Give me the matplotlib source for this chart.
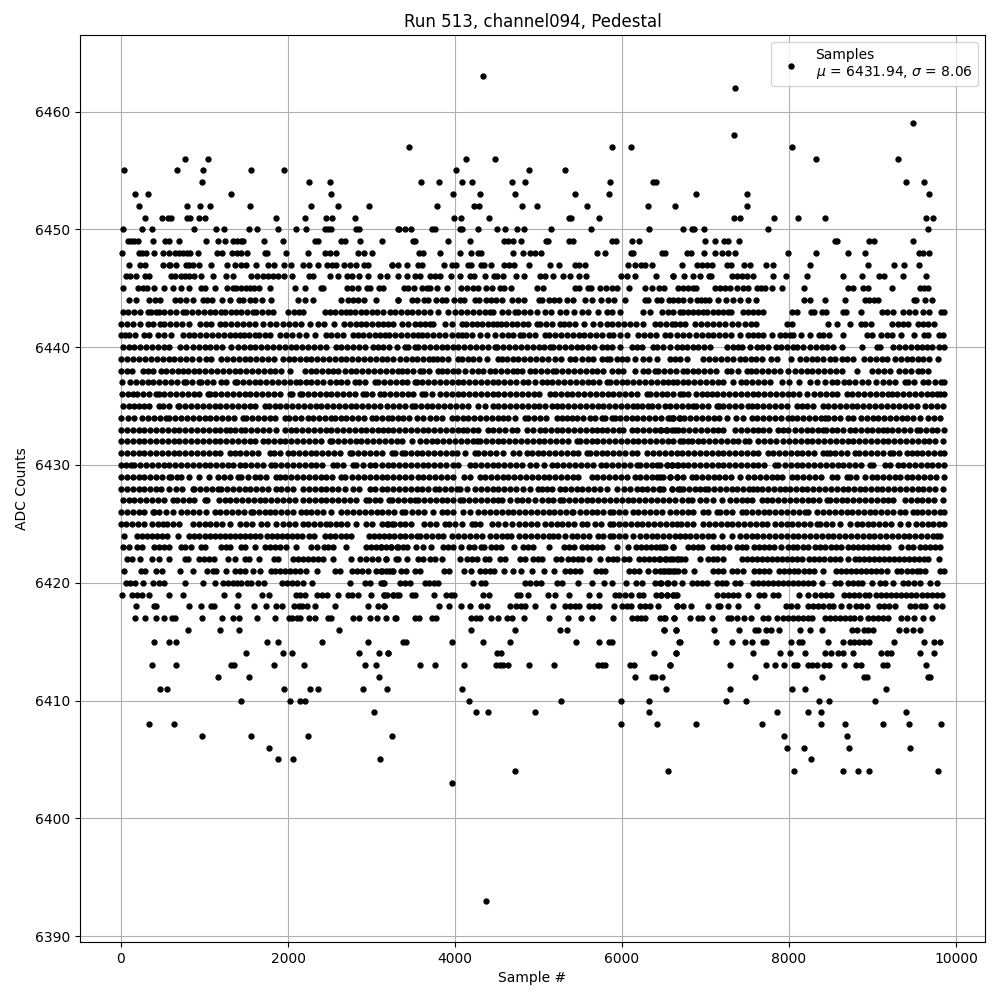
import matplotlib
matplotlib.use('Agg')
import matplotlib.pyplot as plt

# sample numbers, one list per ADC level
x_6463 = [4339]
x_6462 = [7357]
x_6459 = [9487]
x_6458 = [7345]
x_6457 = [3453, 5883, 6110, 8039]
x_6456 = [764, 1040, 4135, 4483, 8326, 9308]
x_6455 = [32, 668, 980, 1556, 1952, 4016, 4890, 5320]
x_6454 = [968, 2252, 2504, 3597, 3812, 4088, 4207, 4686, 4842, 5859, 6374, 6410, 9404, 9619]
x_6453 = [168, 320, 1316, 2516, 3980, 4303, 4722, 5440, 5847, 6890, 7500, 9679]
x_6452 = [212, 788, 944, 1064, 1544, 2276, 2600, 2972, 3788, 4231, 4291, 4806, 4985, 5584, 6314, 6637, 7500]
x_6451 = [284, 488, 560, 596, 788, 824, 932, 1004, 1856, 2204, 2456, 2528, 2804, 3992, 4076, 4411, 5368, 5392, 5727,
          7345, 7417, 7824, 8111, 8434, 9643, 9727]
x_6450 = [20, 248, 368, 872, 1136, 1232, 1532, 1628, 1880, 2096, 2216, 2444, 2480, 2516, 2820, 2852, 3320, 3333, 3405, 3477,
          3728, 3764, 4064, 4088, 4279, 4506, 4602, 4746, 4830, 5153, 5632, 6326, 6734, 6842, 6866, 6986, 7752, 9667]
x_6449 = [80, 116, 152, 200, 380, 524, 572, 692, 1016, 1160, 1244, 1340, 1388, 1436, 1460, 1712, 1940, 2324, 2360, 2636, 2684,
          2864, 3128, 3500, 3525, 3920, 4183, 4590, 4638, 4698, 4794, 5093, 5117, 5368, 5416, 5883, 5931, 6122, 6206,
          6998, 7117, 7225, 7273, 7405, 8554, 8578, 8961, 9021, 9487]
x_6448 = [8, 212, 248, 296, 392, 500, 572, 644, 692, 740, 788, 824, 920, 1148, 1208, 1328, 1388, 1436, 1508, 1724, 1748, 1976,
          2240, 2444, 2504, 2576, 2840, 2912, 3008, 3573, 3621, 3824, 4064, 4195, 4279, 4315, 4698, 4818, 4901, 4961, 5033,
          5703, 5799, 6110, 6134, 6483, 6519, 6782, 6830, 6986, 7117, 7201, 7273, 7357, 7991, 8326, 8709, 8913, 9559, 9607, 9679]
x_6447 = [100, 224, 284, 500, 572, 592, 656, 776, 812, 860, 932, 1076, 1268, 1364, 1436, 1496, 1616, 1760, 1832, 1952, 2036,
          2180, 2252, 2360, 2468, 2528, 2576, 2672, 2744, 2816, 2912, 2960, 3248, 3250, 3321, 3429, 3561, 3609, 3872, 3968,
          4016, 4159, 4195, 4315, 4351, 4435, 4590, 4650, 4710, 4890, 5141, 5249, 5440, 5488, 5560, 6075, 6158, 6230, 6278,
          6362, 6722, 6902, 6962, 7022, 7081, 7261, 7309, 7464, 7536, 7728, 7812, 8254, 8949, 9260, 9380, 9559]
x_6446 = [60, 112, 176, 284, 340, 596, 644, 716, 764, 812, 872, 956, 1100, 1256, 1340, 1556, 1628, 1700, 1760, 1820, 1880, 1952,
          2048, 2252, 2300, 2504, 2600, 2708, 2768, 2852, 2960, 3104, 3188, 3320, 3429, 3525, 3585, 3704, 3764, 3824, 3956,
          4064, 4183, 4231, 4363, 4470, 4506, 4578, 4734, 4830, 5021, 5081, 5177, 5296, 5380, 5488, 5572, 5991, 6063, 6158,
          6410, 6613, 6615, 6746, 6854, 6938, 7046, 7070, 7321, 7381, 7441, 7500, 7572, 7812, 7967, 8219, 8650, 8877, 9080,
          9140, 9368, 9643]
x_6445 = [20, 200, 260, 308, 392, 512, 620, 716, 812, 956, 1004, 1128, 1268, 1340, 1376, 1436, 1496, 1544, 1592, 1652, 1784,
          2084, 2204, 2396, 2420, 2708, 2768, 2840, 2948, 2984, 3092, 3140, 3393, 3441, 3513, 3609, 3669, 3704, 3788, 3908,
          4076, 4147, 4219, 4279, 4375, 4447, 4542, 4590, 4674, 4985, 5057, 5440, 5488, 5596, 5632, 5739, 5811, 5883, 5943,
          6086, 6278, 6362, 6446, 6505, 6673, 6734, 6794, 6854, 6890, 7117, 7177, 7237, 7297, 7381, 7452, 7512, 7620, 7668,
          7716, 7800, 7919, 8183, 8709, 8769, 8889, 8949, 9236, 9571, 9619, 9667]
x_6444 = [100, 176, 332, 404, 464, 644, 704, 776, 860, 980, 1028, 1088, 1208, 1304, 1412, 1460, 1544, 1604, 1688, 1796, 2120,
          2204, 2300, 2636, 2716, 2780, 2840, 2912, 3048, 3312, 3321, 3489, 3549, 3633, 3681, 3776, 3848, 3896, 3992, 4064,
          4111, 4243, 4291, 4375, 4435, 4494, 4566, 4686, 4758, 4830, 5009, 5045, 5129, 5189, 5249, 5344, 5416, 5560, 5644,
          5751, 5835, 5907, 6039, 6278, 6314, 6422, 6471, 6567, 6615, 6674, 6734, 6818, 6902, 6950, 6998, 7046, 7153, 7249,
          7333, 7417, 7512, 7608, 8183, 8254, 8434, 8673, 8913, 8961, 9021, 9068, 9499, 9523, 9631, 9715]
x_6443 = [20, 88, 156, 224, 320, 360, 420, 460, 520, 588, 660, 740, 780, 850, 920, 990, 1060, 1130, 1200, 1240, 1320, 1380, 1440, 1510,
          1580, 1620, 1690, 1760, 1820, 2000, 2070, 2130, 2180, 2448, 2508, 2560, 2630, 2690, 2740, 2800, 2880, 2940, 3000, 3068,
          3140, 3220, 3280, 3350, 3420, 3490, 3560, 3630, 3700, 3800, 3920, 4000, 4070, 4140, 4220, 4290, 4360, 4420, 4460, 4560,
          4630, 4720, 4760, 4830, 4900, 4980, 5080, 5150, 5260, 5330, 5425, 5515, 5596, 5715, 5815, 5885, 5975, 6255, 6335, 6475,
          6545, 6615, 6690, 6734, 6794, 6854, 6914, 6974, 7022, 7093, 7153, 7213, 7273, 7309, 7452, 7512, 7572, 7632, 7692, 8039,
          8099, 8266, 8302, 8398, 8446, 8650, 8685, 8865, 9116, 9176, 9248, 9368, 9439, 9511, 9607, 9679, 9823, 9856]
x_6442 = [0, 70, 140, 224, 320, 380, 464, 520, 590, 660, 730, 820, 952, 1020, 1080, 1180, 1250, 1320, 1390, 1460, 1530, 1600, 1700,
          1780, 1860, 1940, 2010, 2080, 2160, 2268, 2360, 2432, 2552, 2668, 2740, 2810, 2880, 2940, 3010, 3080, 3140, 3200, 3260,
          3360, 3440, 3520, 3580, 3640, 3700, 3740, 3880, 3960, 4080, 4130, 4200, 4260, 4320, 4390, 4460, 4500, 4545, 4610, 4680,
          4740, 4810, 4880, 4980, 5020, 5090, 5160, 5260, 5300, 5360, 5435, 5540, 5655, 5735, 5815, 5885, 5955, 6025, 6095, 6165,
          6255, 6400, 6455, 6525, 6595, 6635, 6700, 6755, 6875, 6950, 7020, 7090, 7160, 7235, 7313, 7393, 7470, 7540, 7610, 7970,
          8030, 8470, 8580, 8733, 8860, 8910, 8977, 9228, 9300, 9370, 9428, 9548, 9610, 9668, 9740]
x_6441 = [0, 50, 100, 172, 272, 340, 440, 520, 600, 740, 810, 880, 950, 1020, 1090, 1160, 1230, 1300, 1360, 1420, 1468, 1530, 1600,
          1652, 1720, 1780, 1900, 1980, 2052, 2130, 2220, 2328, 2452, 2520, 2590, 2660, 2780, 2840, 2900, 2970, 3040, 3100, 3160,
          3215, 3285, 3355, 3425, 3495, 3560, 3600, 3670, 3740, 3810, 3880, 3960, 4030, 4080, 4130, 4200, 4300, 4380, 4480, 4560,
          4630, 4700, 4780, 4820, 4890, 4960, 5080, 5130, 5200, 5270, 5340, 5410, 5480, 5550, 5620, 5690, 5760, 5850, 5895, 5975,
          6065, 6195, 6265, 6335, 6405, 6515, 6575, 6655, 6734, 6806, 6885, 6955, 7025, 7095, 7165, 7235, 7305, 7412, 7512, 7572,
          7632, 7692, 7800, 7890, 7950, 8010, 8050, 8147, 8250, 8362, 8410, 8482, 8650, 8930, 8990, 9097, 9168, 9236, 9344, 9499,
          9619, 9667, 9800, 9845]
x_6440 = [20, 90, 160, 230, 300, 370, 440, 510, 580, 712, 780, 860, 940, 1000, 1070, 1140, 1210, 1320, 1400, 1470, 1540, 1610, 1680,
          1750, 1820, 1890, 1960, 2030, 2100, 2170, 2240, 2310, 2380, 2450, 2580, 2640, 2710, 2780, 2850, 2920, 3020, 3080, 3140,
          3214, 3308, 3400, 3440, 3520, 3560, 3630, 3700, 3770, 3840, 3910, 3980, 4040, 4110, 4180, 4250, 4320, 4390, 4480, 4500,
          4580, 4650, 4720, 4790, 4860, 4930, 5000, 5070, 5135, 5175, 5245, 5315, 5385, 5455, 5525, 5595, 5665, 5755, 5815, 5885,
          5975, 6115, 6175, 6245, 6375, 6415, 6485, 6575, 6653, 6715, 6775, 6845, 6915, 6985, 7050, 7255, 7325, 7392, 7432, 7532,
          7612, 7682, 7752, 7850, 7907, 7980, 8050, 8090, 8170, 8250, 8320, 8390, 8460, 8530, 8630, 8877, 9050, 9090, 9248, 9318,
          9388, 9458, 9528, 9598, 9647, 9715, 9800, 9856]
x_6439 = [0, 70, 140, 215, 290, 360, 430, 500, 570, 640, 710, 780, 850, 940, 1020, 1080, 1200, 1270, 1340, 1410, 1480, 1550, 1620,
          1690, 1760, 1830, 1940, 2010, 2070, 2140, 2210, 2280, 2350, 2420, 2490, 2560, 2630, 2700, 2770, 2840, 2910, 2980, 3050,
          3120, 3190, 3260, 3340, 3410, 3480, 3550, 3620, 3690, 3740, 3780, 3850, 3920, 4040, 4080, 4150, 4220, 4290, 4380, 4520,
          4560, 4620, 4700, 4760, 4830, 4900, 4970, 5040, 5110, 5200, 5275, 5375, 5435, 5515, 5595, 5655, 5755, 5815, 5855, 5935,
          6000, 6055, 6155, 6255, 6325, 6415, 6575, 6635, 6695, 6774, 6975, 7045, 7115, 7185, 7255, 7325, 7412, 7470, 7540, 7610,
          7680, 7790, 7860, 8020, 8130, 8200, 8270, 8340, 8410, 8490, 8550, 8630, 8690, 8770, 8897, 8970, 9040, 9110, 9168, 9268,
          9338, 9408, 9478, 9548, 9607, 9677, 9787]
x_6438 = [0, 70, 130, 260, 320, 380, 480, 540, 610, 680, 740, 800, 870, 940, 1010, 1080, 1150, 1220, 1290, 1360, 1430, 1500, 1570,
          1640, 1710, 1780, 1850, 1920, 2020, 2200, 2270, 2340, 2410, 2480, 2540, 2600, 2680, 2750, 2820, 2890, 2960, 3030, 3100,
          3170, 3240, 3320, 3360, 3430, 3500, 3580, 3620, 3690, 3800, 3840, 3910, 3980, 4040, 4120, 4200, 4270, 4340, 4420, 4480,
          4550, 4620, 4690, 4740, 4800, 4900, 4960, 5030, 5100, 5175, 5215, 5285, 5355, 5425, 5495, 5565, 5635, 5705, 5775, 5875,
          5955, 6015, 6155, 6255, 6315, 6395, 6435, 6505, 6575, 6645, 6735, 6775, 6845, 6915, 6985, 7055, 7125, 7253, 7309, 7393,
          7500, 7540, 7610, 7680, 7750, 7820, 7890, 7990, 8070, 8140, 8210, 8280, 8350, 8420, 8490, 8560, 8630, 8809, 8990, 9068,
          9137, 9207, 9320, 9388, 9458, 9548, 9587, 9660]
x_6437 = [8, 108, 178, 248, 318, 388, 458, 528, 598, 668, 760, 780, 850, 940, 960, 1030, 1100, 1200, 1252, 1360, 1390, 1460, 1530,
          1600, 1670, 1740, 1810, 1880, 1950, 2020, 2100, 2140, 2210, 2280, 2350, 2420, 2500, 2570, 2640, 2710, 2800, 2852, 2920,
          3040, 3080, 3150, 3220, 3290, 3360, 3430, 3520, 3540, 3610, 3680, 3750, 3820, 3890, 3960, 4030, 4100, 4170, 4240, 4310,
          4380, 4450, 4520, 4590, 4660, 4730, 4817, 4878, 4960, 5037, 5097, 5167, 5237, 5307, 5377, 5447, 5517, 5587, 5657, 5727,
          5815, 5855, 5925, 5995, 6065, 6135, 6205, 6275, 6345, 6415, 6485, 6555, 6612, 6653, 6725, 6795, 6865, 6935, 7005, 7075,
          7145, 7215, 7333, 7420, 7490, 7560, 7630, 7700, 7770, 7911, 8003, 8123, 8250, 8340, 8430, 8510, 8580, 8660, 8721, 8790,
          8869, 8949, 9036, 9128, 9198, 9268, 9388, 9428, 9498, 9607, 9668, 9747, 9817, 9856]
x_6436 = [12, 80, 140, 190, 260, 330, 420, 450, 520, 590, 660, 730, 800, 870, 940, 1040, 1060, 1130, 1200, 1270, 1340, 1410, 1480,
          1550, 1620, 1690, 1760, 1830, 1900, 2020, 2050, 2140, 2170, 2240, 2310, 2380, 2450, 2520, 2590, 2660, 2730, 2800, 2900,
          2940, 3010, 3100, 3154, 3222, 3292, 3362, 3432, 3502, 3600, 3640, 3720, 3820, 3890, 3960, 4030, 4100, 4170, 4240, 4310,
          4380, 4450, 4520, 4590, 4660, 4730, 4800, 4870, 4940, 5010, 5137, 5197, 5267, 5337, 5407, 5477, 5547, 5617, 5687, 5757,
          5827, 5897, 5967, 6037, 6107, 6177, 6294, 6334, 6404, 6474, 6544, 6614, 6690, 6725, 6794, 6886, 6954, 7014, 7073, 7141,
          7213, 7283, 7353, 7423, 7493, 7563, 7633, 7703, 7773, 7843, 7913, 7983, 8053, 8123, 8210, 8302, 8370, 8440, 8510, 8580,
          8690, 8749, 8829, 8899, 8969, 9039, 9109, 9188, 9228, 9298, 9368, 9438, 9508, 9578, 9648, 9718, 9767, 9807, 9856]
x_6435 = [20, 90, 160, 212, 272, 340, 460, 500, 580, 680, 700, 770, 840, 910, 980, 1050, 1120, 1190, 1260, 1330, 1400, 1470, 1540,
          1610, 1720, 1770, 1840, 1910, 1980, 2050, 2120, 2190, 2260, 2330, 2400, 2470, 2540, 2610, 2680, 2750, 2820, 2890, 2960,
          3030, 3100, 3190, 3260, 3330, 3400, 3480, 3520, 3590, 3660, 3730, 3800, 3870, 3940, 4010, 4080, 4150, 4280, 4360, 4460,
          4520, 4590, 4660, 4730, 4800, 4870, 4940, 5010, 5080, 5157, 5217, 5287, 5357, 5427, 5497, 5567, 5637, 5707, 5777, 5847,
          5917, 5987, 6057, 6127, 6175, 6235, 6315, 6355, 6425, 6515, 6575, 6645, 6715, 6785, 6854, 6886, 6956, 7026, 7133, 7157,
          7213, 7283, 7353, 7423, 7512, 7552, 7622, 7692, 7762, 7832, 7902, 7972, 8090, 8150, 8220, 8290, 8410, 8470, 8540, 8610,
          8680, 8750, 8820, 8890, 8960, 9030, 9100, 9168, 9248, 9318, 9388, 9458, 9528, 9627, 9697, 9767, 9847]
x_6434 = [0, 80, 160, 252, 320, 400, 470, 540, 580, 650, 720, 790, 860, 930, 1000, 1070, 1140, 1210, 1280, 1350, 1460, 1500, 1570,
          1640, 1710, 1780, 1850, 1960, 2010, 2080, 2150, 2240, 2300, 2370, 2440, 2520, 2560, 2630, 2700, 2770, 2840, 2910, 3000,
          3050, 3120, 3202, 3240, 3320, 3380, 3450, 3550, 3620, 3700, 3770, 3840, 3960, 4020, 4090, 4160, 4230, 4300, 4370, 4440,
          4510, 4578, 4638, 4718, 4838, 4878, 4948, 5018, 5088, 5217, 5277, 5337, 5396, 5466, 5536, 5616, 5675, 5755, 5795, 5875,
          5915, 5975, 6046, 6115, 6185, 6255, 6325, 6395, 6465, 6574, 6613, 6690, 6555, 6607, 6677, 6747, 6817, 6887, 6957, 7027,
          7097, 7167, 7253, 7365, 7452, 7552, 7622, 7692, 7762, 7832, 7902, 7991, 8031, 8101, 8171, 8241, 8311, 8381, 8430, 8470,
          8540, 8610, 8710, 8769, 8861, 8931, 9008, 9068, 9138, 9208, 9278, 9348, 9418, 9488, 9567, 9667, 9737, 9807]
x_6433 = [0, 70, 140, 210, 280, 350, 420, 490, 560, 630, 700, 770, 840, 910, 980, 1050, 1120, 1190, 1260, 1300, 1370, 1440, 1490,
          1560, 1630, 1700, 1770, 1860, 1960, 2030, 2100, 2170, 2240, 2310, 2380, 2450, 2520, 2590, 2660, 2730, 2800, 2870, 2940,
          3010, 3080, 3142, 3202, 3262, 3332, 3402, 3472, 3542, 3612, 3682, 3752, 3822, 3892, 3962, 4032, 4100, 4140, 4210, 4280,
          4400, 4460, 4530, 4600, 4680, 4738, 4858, 4937, 5017, 5077, 5147, 5217, 5287, 5357, 5425, 5495, 5565, 5635, 5695, 5755,
          5825, 5895, 5965, 6015, 6115, 6185, 6255, 6325, 6395, 6465, 6535, 6634, 6673, 6455, 6525, 6595, 6735, 6805, 6875, 6945,
          7015, 7085, 7155, 7213, 7353, 7423, 7493, 7563, 7632, 7692, 7762, 7871, 7931, 7991, 8071, 8141, 8211, 8281, 8351, 8410,
          8440, 8510, 8580, 8650, 8729, 8789, 8859, 8929, 8999, 9069, 9128, 9168, 9238, 9308, 9378, 9448, 9528, 9567, 9637, 9707,
          9777, 9856]
x_6432 = [0, 70, 140, 210, 280, 350, 420, 490, 560, 630, 700, 770, 840, 910, 980, 1050, 1120, 1190, 1260, 1330, 1400, 1470, 1540,
          1610, 1700, 1760, 1830, 1900, 1970, 2040, 2110, 2180, 2250, 2320, 2390, 2500, 2530, 2600, 2670, 2740, 2810, 2880, 2950,
          3020, 3090, 3160, 3230, 3300, 3370, 3480, 3580, 3650, 3720, 3790, 3860, 3930, 4000, 4070, 4140, 4210, 4260, 4300, 4370,
          4440, 4510, 4580, 4650, 4720, 4790, 4860, 4930, 5000, 5070, 5140, 5210, 5280, 5350, 5456, 5496, 5566, 5636, 5706, 5776,
          5846, 5916, 5986, 6056, 6126, 6196, 6266, 6336, 6406, 6476, 6546, 6616, 6690, 6725, 6794, 6834, 6904, 6974, 7044, 7114,
          7184, 7254, 7324, 7394, 7472, 7524, 7632, 7702, 7772, 7842, 7931, 8003, 8071, 8141, 8211, 8281, 8351, 8421, 8491, 8561,
          8631, 8701, 8771, 8841, 8911, 8981, 9051, 9121, 9191, 9261, 9331, 9401, 9471, 9541, 9611, 9681, 9751, 9847]
x_6431 = [0, 70, 140, 210, 280, 350, 420, 490, 560, 630, 700, 770, 840, 910, 980, 1050, 1120, 1190, 1300, 1360, 1430, 1500, 1570,
          1640, 1780, 1830, 1900, 2000, 2060, 2130, 2200, 2270, 2340, 2410, 2480, 2550, 2620, 2740, 2770, 2840, 2910, 2980, 3050,
          3120, 3240, 3282, 3361, 3400, 3470, 3540, 3610, 3680, 3750, 3820, 3890, 3960, 4020, 4120, 4240, 4280, 4350, 4420, 4490,
          4578, 4698, 4768, 4858, 4918, 4988, 5058, 5128, 5198, 5268, 5338, 5408, 5478, 5576, 5616, 5686, 5756, 5826, 5896, 5966,
          6035, 6115, 6185, 6294, 6374, 6444, 6514, 6584, 6654, 6724, 6794, 6864, 6934, 7004, 7074, 7144, 7214, 7284, 7354, 7424,
          7494, 7564, 7634, 7752, 7811, 7881, 7951, 8021, 8091, 8161, 8231, 8301, 8410, 8450, 8490, 8550, 8620, 8690, 8789, 8841,
          8911, 8981, 9051, 9121, 9208, 9248, 9318, 9408, 9468, 9528, 9598, 9668, 9738, 9808, 9856]
x_6430 = [0, 60, 120, 160, 230, 300, 370, 440, 510, 580, 650, 720, 790, 860, 930, 1000, 1070, 1140, 1210, 1280, 1340, 1420, 1490,
          1560, 1630, 1700, 1800, 1850, 1920, 1990, 2060, 2130, 2200, 2270, 2340, 2410, 2540, 2590, 2660, 2780, 2820, 2900, 2980,
          3044, 3122, 3192, 3262, 3332, 3402, 3472, 3542, 3612, 3682, 3752, 3822, 3892, 3980, 4040, 4180, 4240, 4310, 4380, 4450,
          4520, 4590, 4660, 4730, 4800, 4898, 4965, 5065, 5157, 5227, 5297, 5367, 5437, 5507, 5577, 5655, 5743, 5813, 5883, 5953,
          6023, 6093, 6175, 6214, 6284, 6354, 6424, 6533, 6593, 6673, 6455, 6535, 6595, 6655, 6734, 6794, 6864, 6934, 7004, 7074,
          7144, 7214, 7284, 7354, 7424, 7494, 7564, 7634, 7704, 7831, 7871, 7951, 8021, 8091, 8161, 8231, 8301, 8371, 8441, 8511,
          8581, 8651, 8721, 8791, 8861, 8969, 9009, 9148, 9208, 9308, 9368, 9438, 9508, 9578, 9648, 9718, 9788, 9856]
x_6429 = [0, 70, 140, 210, 280, 350, 420, 490, 580, 600, 670, 720, 812, 940, 1052, 1160, 1230, 1300, 1400, 1440, 1520, 1600, 1670,
          1740, 1860, 1900, 1970, 2040, 2110, 2180, 2250, 2320, 2390, 2460, 2530, 2640, 2688, 2768, 2840, 2910, 2980, 3050, 3120,
          3190, 3260, 3330, 3400, 3470, 3560, 3620, 3690, 3760, 3830, 3900, 3980, 4108, 4180, 4300, 4360, 4430, 4500, 4570, 4640,
          4710, 4780, 4850, 4920, 4990, 5060, 5130, 5200, 5270, 5340, 5410, 5476, 5635, 5705, 5775, 5845, 5915, 5985, 6055, 6155,
          6214, 6284, 6354, 6424, 6494, 6574, 6653, 6455, 6575, 6655, 6725, 6834, 6886, 6956, 7026, 7096, 7166, 7236, 7306, 7412,
          7512, 7582, 7652, 7722, 7792, 7862, 7911, 8031, 8101, 8171, 8241, 8311, 8381, 8510, 8570, 8690, 8729, 8799, 8909, 8989,
          9059, 9129, 9199, 9269, 9328, 9408, 9478, 9548, 9618, 9688, 9758, 9856]
x_6428 = [0, 70, 140, 210, 280, 350, 420, 480, 572, 660, 730, 860, 880, 950, 1020, 1090, 1160, 1200, 1270, 1340, 1410, 1480, 1550,
          1620, 1690, 1760, 1860, 1920, 1990, 2060, 2180, 2250, 2320, 2390, 2460, 2530, 2600, 2680, 2780, 2850, 2980, 3040, 3120,
          3190, 3260, 3330, 3400, 3470, 3540, 3610, 3680, 3760, 3812, 3880, 3950, 4020, 4060, 4147, 4240, 4310, 4380, 4450, 4520,
          4590, 4660, 4730, 4818, 4898, 4997, 5037, 5097, 5167, 5257, 5316, 5386, 5456, 5526, 5596, 5666, 5736, 5815, 5935, 6023,
          6095, 6175, 6235, 6305, 6375, 6445, 6494, 6593, 6690, 6455, 6595, 6665, 6735, 6805, 6874, 6934, 6994, 7033, 7103, 7173,
          7243, 7313, 7383, 7453, 7523, 7572, 7612, 7682, 7752, 7822, 7892, 7951, 8011, 8081, 8151, 8221, 8291, 8361, 8431, 8501,
          8571, 8641, 8711, 8781, 8849, 8909, 8979, 9049, 9119, 9189, 9259, 9329, 9399, 9469, 9539, 9609, 9679, 9749, 9847]
x_6427 = [20, 90, 160, 230, 300, 370, 440, 510, 620, 668, 740, 810, 880, 1000, 1028, 1172, 1240, 1310, 1380, 1450, 1520, 1590, 1660,
          1730, 1800, 1870, 1940, 2010, 2080, 2180, 2250, 2320, 2390, 2460, 2530, 2600, 2670, 2740, 2810, 2940, 2970, 3040, 3100,
          3212, 3242, 3320, 3390, 3460, 3520, 3560, 3630, 3700, 3770, 3840, 3910, 3980, 4060, 4100, 4170, 4240, 4310, 4380, 4450,
          4518, 4558, 4658, 4738, 4808, 4878, 4957, 5037, 5117, 5177, 5257, 5296, 5366, 5436, 5506, 5576, 5646, 5716, 5786, 5856,
          5926, 5996, 6066, 6136, 6206, 6276, 6346, 6414, 6494, 6564, 6634, 6715, 6785, 6834, 6934, 7004, 7093, 7193, 7293, 7363,
          7432, 7492, 7562, 7672, 7732, 7802, 7872, 7942, 8012, 8082, 8152, 8222, 8292, 8362, 8450, 8490, 8560, 8630, 8700, 8770,
          8840, 8910, 8980, 9050, 9120, 9190, 9248, 9388, 9458, 9528, 9598, 9668, 9738, 9847]
x_6426 = [0, 70, 140, 210, 280, 380, 390, 460, 540, 620, 720, 790, 860, 930, 1020, 1120, 1190, 1260, 1330, 1400, 1470, 1560, 1580,
          1650, 1720, 1780, 1850, 1920, 1990, 2060, 2160, 2210, 2280, 2350, 2420, 2520, 2640, 2710, 2780, 2850, 2920, 2990, 3060,
          3130, 3200, 3270, 3361, 3400, 3489, 3560, 3630, 3740, 3840, 3910, 3980, 4100, 4180, 4280, 4350, 4420, 4490, 4560, 4630,
          4700, 4770, 4840, 4910, 4980, 5050, 5120, 5190, 5260, 5330, 5396, 5416, 5496, 5566, 5636, 5706, 5776, 5855, 5895, 5965,
          6035, 6135, 6195, 6265, 6335, 6405, 6474, 6575, 6645, 6715, 6785, 6855, 6975, 7033, 7133, 7173, 7243, 7313, 7433, 7485,
          7555, 7625, 7695, 7765, 7835, 7905, 7975, 8045, 8115, 8190, 8230, 8330, 8410, 8480, 8550, 8620, 8690, 8760, 8830, 8900,
          8969, 9030, 9100, 9170, 9240, 9328, 9388, 9488, 9528, 9598, 9668, 9738, 9808, 9856]
x_6425 = [0, 60, 130, 200, 270, 372, 440, 500, 552, 620, 692, 860, 930, 1000, 1070, 1140, 1210, 1300, 1430, 1500, 1570, 1680, 1748,
          1860, 1940, 2010, 2080, 2180, 2240, 2310, 2380, 2460, 2500, 2570, 2640, 2710, 2820, 2940, 3010, 3120, 3180, 3250, 3340,
          3202, 3270, 3400, 3473, 3633, 3700, 3770, 3880, 3932, 4000, 4080, 4200, 4240, 4300, 4447, 4518, 4600, 4678, 4770, 4842,
          4910, 4977, 5077, 5147, 5217, 5287, 5357, 5427, 5516, 5584, 5675, 5745, 5855, 5895, 5965, 6035, 6105, 6175, 6245, 6315,
          6385, 6455, 6525, 6595, 6653, 6702, 6774, 6854, 6974, 7044, 7114, 7184, 7254, 7313, 7393, 7463, 7533, 7603, 7673, 7732,
          7831, 7901, 7971, 8041, 8111, 8181, 8251, 8330, 8370, 8440, 8510, 8610, 8730, 8810, 8870, 8940, 9010, 9080, 9150, 9220,
          9328, 9428, 9520, 9590, 9660, 9730, 9800, 9856]
x_6424 = [32, 188, 248, 308, 368, 428, 488, 548, 680, 812, 872, 932, 1004, 1064, 1124, 1184, 1244, 1304, 1364, 1424, 1484, 1544, 1604,
          1664, 1748, 1808, 1868, 1928, 1988, 2048, 2108, 2168, 2252, 2312, 2444, 2504, 2564, 2636, 2696, 2756, 2972, 3032, 3092,
          3152, 3212, 3272, 3340, 3400, 3470, 3541, 3581, 3651, 3721, 3791, 3861, 3960, 4040, 4110, 4180, 4250, 4320, 4418, 4488,
          4558, 4618, 4666, 4770, 4840, 4910, 4980, 5050, 5120, 5177, 5237, 5316, 5396, 5466, 5536, 5606, 5715, 5775, 5855, 5895,
          5965, 6035, 6135, 6214, 6284, 6354, 6424, 6494, 6564, 6634, 6690, 6760, 6814, 6884, 6954, 7024, 7094, 7193, 7313, 7412,
          7482, 7552, 7622, 7692, 7762, 7832, 7902, 7972, 8042, 8112, 8182, 8252, 8322, 8392, 8462, 8532, 8602, 8672, 8742, 8812,
          8882, 8952, 9022, 9092, 9162, 9232, 9302, 9372, 9442, 9512, 9582, 9652, 9722, 9767, 9807]
x_6423 = [20, 92, 188, 248, 392, 452, 512, 572, 716, 764, 836, 956, 1004, 1196, 1256, 1304, 1436, 1484, 1604, 1724, 1784, 1844, 1904,
          1976, 2096, 2276, 2348, 2432, 2480, 2540, 2696, 2936, 2996, 3056, 3116, 3176, 3236, 3308, 3118, 3238, 3321, 3381, 3429,
          3537, 3621, 3716, 3860, 3920, 3980, 4076, 4171, 4231, 4315, 4351, 4435, 4494, 4554, 4710, 4818, 4878, 4937, 5129, 5308,
          5368, 5428, 5524, 5584, 5644, 5703, 5763, 5943, 6075, 6170, 6230, 6290, 6350, 6410, 6494, 6613, 6455, 6515, 6615, 6794,
          6854, 6914, 6962, 7093, 7153, 7213, 7285, 7381, 7440, 7488, 7584, 7644, 7704, 7764, 7823, 7907, 7991, 8051, 8099, 8171,
          8231, 8314, 8374, 8434, 8506, 8566, 8625, 8709, 8769, 8829, 8889, 8949, 9009, 9068, 9128, 9188, 9340, 9428, 9487, 9571,
          9631, 9691, 9751, 9811]
x_6422 = [68, 128, 224, 368, 452, 572, 764, 800, 932, 992, 1052, 1112, 1280, 1364, 1484, 1532, 1652, 1832, 1880, 2060, 2120, 2180,
          2240, 2300, 2360, 2420, 2540, 2756, 2864, 2936, 3008, 3080, 3176, 3296, 3178, 3321, 3429, 3561, 3621, 3704, 3764, 3848,
          4064, 4147, 4207, 4267, 4363, 4411, 4542, 4602, 4782, 4842, 4937, 4997, 5045, 5213, 5273, 5356, 5416, 5476, 5524, 5608,
          5739, 5835, 5895, 5943, 6027, 6086, 6206, 6266, 6326, 6386, 6446, 6529, 6613, 6673, 6455, 6515, 6575, 6662, 6710, 6758,
          6938, 7033, 7093, 7141, 7213, 7440, 7500, 7560, 7620, 7680, 7740, 7800, 7859, 7919, 7979, 8039, 8099, 8159, 8242, 8302,
          8362, 8422, 8494, 8554, 8614, 8709, 8793, 8841, 8901, 8961, 9021, 9080, 9140, 9200, 9260, 9320, 9380, 9440, 9499, 9559,
          9619, 9667, 9799]
x_6421 = [32, 236, 284, 416, 488, 704, 860, 1028, 1100, 1136, 1256, 1364, 1424, 1484, 1580, 1664, 1796, 1844, 1904, 1964, 2024, 2084,
          2144, 2216, 2348, 2564, 2624, 2768, 2828, 2888, 2960, 3056, 3116, 3176, 3248, 3130, 3214, 3262, 3357, 3417, 3525, 3585,
          3872, 3932, 4111, 4195, 4303, 4363, 4423, 4470, 4590, 4698, 4794, 4925, 5069, 5189, 5320, 5380, 5440, 5500, 5691, 5751,
          5799, 6086, 6146, 6206, 6314, 6398, 6458, 6517, 6577, 6637, 6495, 6555, 6615, 6674, 6746, 6866, 7093, 7153, 7213, 7321,
          7381, 7452, 7584, 7644, 7704, 7764, 7883, 7943, 8003, 8063, 8111, 8183, 8242, 8302, 8410, 8566, 8625, 8685, 8745, 8805,
          8865, 8925, 8985, 9044, 9104, 9176, 9296, 9344, 9416, 9475, 9535, 9571, 9631, 9811, 9856]
x_6420 = [56, 104, 164, 260, 380, 452, 512, 764, 980, 1124, 1220, 1280, 1340, 1388, 1436, 1508, 1556, 1640, 1712, 1928, 1988, 2048,
          2108, 2180, 2288, 2744, 2924, 2984, 3116, 3152, 3142, 3345, 3405, 3465, 3645, 3693, 3752, 3800, 4219, 4315, 4363, 4842,
          4901, 4973, 5033, 5225, 5285, 5476, 5644, 5787, 5883, 6051, 6170, 6242, 6398, 6458, 6553, 6625, 6471, 6543, 6722, 6842,
          6902, 6962, 7022, 7141, 7201, 7249, 7357, 7417, 7572, 7632, 7692, 7752, 7812, 7871, 7931, 7991, 8051, 8111, 8171, 8231,
          8290, 8398, 8554, 8614, 8709, 8769, 8829, 8877, 8997, 9092, 9152, 9248, 9368, 9428, 9499, 9571, 9691, 9775]
x_6419 = [8, 128, 188, 248, 332, 572, 740, 1232, 1400, 1688, 1772, 2096, 2144, 2204, 2348, 2408, 2468, 2600, 2720, 2768, 2840, 2996,
          3152, 3188, 3260, 3308, 3154, 3262, 3333, 3489, 3525, 3752, 3896, 3956, 3992, 4339, 4411, 4746, 4782, 4878, 5117, 5201,
          5368, 5608, 5727, 5919, 5967, 6039, 6111, 6206, 6254, 6410, 6470, 6541, 6613, 6661, 6471, 6543, 6615, 6651, 7141, 7213,
          7273, 7333, 7393, 7512, 7644, 7704, 7812, 7871, 8123, 8231, 8314, 8386, 8446, 8506, 8661, 8721, 8781, 8841, 8913, 8961,
          9044, 9104, 9164, 9224, 9284, 9344, 9404, 9463, 9523, 9595, 9655, 9715, 9775, 9835]
x_6418 = [176, 392, 416, 812, 956, 1076, 1112, 1388, 1592, 1736, 1856, 1928, 2072, 2132, 2168, 2228, 2324, 2564, 2960, 3080, 3152,
          3154, 3812, 3932, 4076, 4183, 4315, 4387, 4662, 4734, 4794, 4842, 4961, 5177, 5320, 5380, 5440, 5488, 5608, 5668, 5727,
          5907, 6001, 6063, 6111, 6218, 6278, 6338, 6434, 6661, 6662, 6734, 6830, 7033, 7153, 7177, 7273, 7393, 7620, 7967, 8027,
          8099, 8231, 8290, 8350, 8410, 8482, 8530, 8625, 8721, 8805, 8865, 8937, 9080, 9140, 9200, 9272, 9451, 9511, 9583, 9631,
          9763, 9835]
x_6417 = [164, 284, 416, 512, 608, 644, 968, 1208, 1340, 1412, 1628, 1844, 2012, 2048, 2108, 2144, 2252, 2324, 2480, 2516, 2780, 2852,
          2984, 3068, 3176, 3296, 3286, 3525, 3573, 3728, 3776, 4195, 4255, 4303, 4435, 4518, 4626, 4686, 4830, 5129, 5356, 5512,
          5644, 5895, 6122, 6182, 6230, 6278, 6458, 6517, 6625, 6507, 6627, 6818, 6914, 6962, 7081, 7273, 7309, 7381, 7464, 7548,
          7692, 7752, 7859, 7931, 7991, 8051, 8111, 8171, 8231, 8278, 8434, 8494, 8554, 8614, 8673, 8733, 8781, 8853, 8949, 9009,
          9068, 9128, 9188, 9344, 9416, 9499, 9607, 9715]
x_6416 = [800, 1184, 1412, 2612, 4195, 4722, 5261, 5344, 6505, 6649, 6507, 6651, 7105, 7405, 7596, 7632, 7728, 7788, 7883, 8135, 8254,
          8398, 8757, 8817, 8901, 8949, 9009, 9320, 9404, 9487, 9571]
x_6415 = [392, 572, 656, 1748, 1880, 2408, 2960, 3381, 3417, 3968, 4339, 4662, 5452, 5727, 5847, 5883, 6685, 6698, 7129, 7321, 7476,
          7560, 7692, 7728, 8027, 8123, 8159, 8470, 8650, 8733, 8781, 8841, 8901, 8961, 9260, 9619, 9739, 9811]
x_6414 = [1496, 1940, 2048, 2852, 3092, 3200, 3202, 4506, 4554, 6386, 6649, 6651, 7572, 7895, 8015, 8195, 8434, 8506, 8590, 8650, 8769,
          9104, 9176, 9224, 9571, 9739]
x_6413 = [368, 656, 1316, 1352, 1832, 2192, 2924, 3056, 3585, 3764, 4111, 4494, 4542, 4578, 4638, 4890, 5189, 5716, 5763, 5799, 6099,
          6146, 6577, 6579, 7297, 7728, 7836, 7943, 8063, 8099, 8231, 8278, 8338, 8422, 8482, 8661, 8805, 8865, 9128, 9176, 9643]
x_6412 = [1160, 1532, 3092, 6158, 6362, 6398, 6482, 7596, 8398, 8901, 8937, 9667, 9691]
x_6411 = [464, 548, 1952, 2264, 2360, 2900, 3188, 4088, 6529, 7297, 8039, 8195, 9164]
x_6410 = [1436, 2024, 2144, 2204, 4171, 5273, 5991, 6326, 7249, 7488, 8362, 8482, 9033]
x_6409 = [3032, 4255, 4399, 4961, 6326, 7859, 8231, 8386, 9404]
x_6408 = [332, 632, 5991, 6422, 6890, 7680, 8386, 8673, 9128, 9440, 9823]
x_6407 = [968, 1556, 2240, 3248, 7943, 8697]
x_6406 = [1772, 7979, 8183, 8721, 9452]
x_6405 = [1880, 2060, 3104, 8266]
x_6404 = [4722, 6553, 8063, 8650, 8829, 8961, 9787]
x_6403 = [3968]
x_6393 = [4371]

levels = [6463, 6462, 6459, 6458, 6457, 6456, 6455, 6454, 6453, 6452, 6451, 6450, 6449, 6448, 6447, 6446, 6445, 6444,
          6443, 6442, 6441, 6440, 6439, 6438, 6437, 6436, 6435, 6434, 6433, 6432, 6431, 6430, 6429, 6428, 6427, 6426, 6425,
          6424, 6423, 6422, 6421, 6420, 6419, 6418, 6417, 6416, 6415, 6414, 6413, 6412, 6411, 6410, 6409, 6408, 6407, 6406,
          6405, 6404, 6403, 6393]
samples = [x_6463, x_6462, x_6459, x_6458, x_6457, x_6456, x_6455, x_6454, x_6453, x_6452, x_6451, x_6450, x_6449,
           x_6448, x_6447, x_6446, x_6445, x_6444, x_6443, x_6442, x_6441, x_6440, x_6439, x_6438, x_6437, x_6436, x_6435,
           x_6434, x_6433, x_6432, x_6431, x_6430, x_6429, x_6428, x_6427, x_6426, x_6425, x_6424, x_6423, x_6422, x_6421,
           x_6420, x_6419, x_6418, x_6417, x_6416, x_6415, x_6414, x_6413, x_6412, x_6411, x_6410, x_6409, x_6408, x_6407,
           x_6406, x_6405, x_6404, x_6403, x_6393]

xs = []
ys = []
for level, row in zip(levels, samples):
    xs.extend(row)
    ys.extend([level] * len(row))

fig, ax = plt.subplots(figsize=(10, 10), dpi=100)
ax.scatter(xs, ys, s=50, marker='.', color='black', zorder=3,
           label='Samples\n$\\mu$ = 6431.94, $\\sigma$ = 8.06')
ax.set_title('Run 513, channel094, Pedestal')
ax.set_xlabel('Sample #')
ax.set_ylabel('ADC Counts')
ax.set_xlim(-491, 10347)
ax.set_ylim(6389.5, 6466.5)
ax.grid()
ax.legend(loc='upper right')
fig.subplots_adjust(left=0.08, right=0.985, top=0.965, bottom=0.058)
fig.savefig('out.png')
